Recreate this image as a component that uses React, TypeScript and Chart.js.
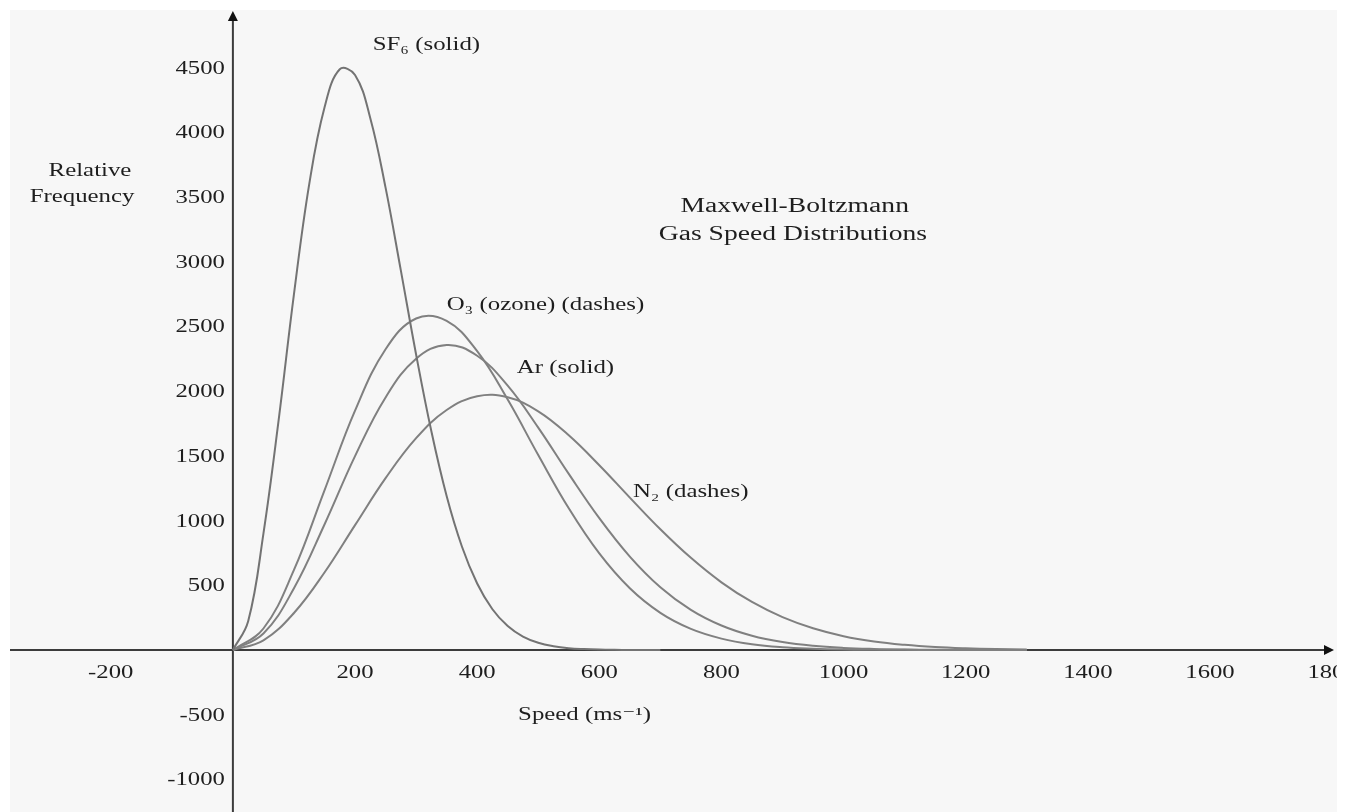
import React, { useEffect, useRef } from "react";
import { Chart, registerables } from "chart.js";

Chart.register(...registerables);

// Speeds (m/s) shared by O3, Ar, N2
const speeds = [0, 50, 100, 150, 200, 250, 300, 350, 400, 450, 500, 550, 600, 650, 700, 750, 800, 850, 900, 950, 1000, 1050, 1100, 1150, 1200, 1250, 1300];
const o3Values = [0, 166, 619, 1234, 1850, 2324, 2562, 2544, 2309, 1935, 1507, 1095, 746, 477, 287, 163, 88, 44, 21, 10, 4, 2, 1, 0, 0, 0, 0];
const arValues = [0, 127, 477, 970, 1498, 1952, 2251, 2357, 2274, 2043, 1719, 1361, 1019, 722, 485, 310, 189, 110, 61, 32, 16, 8, 4, 2, 1, 0, 0];
const n2Values = [0, 75, 286, 599, 965, 1328, 1637, 1855, 1961, 1953, 1844, 1659, 1428, 1178, 933, 712, 523, 371, 254, 168, 107, 66, 40, 23, 13, 7, 4];

// SF6 is sampled more finely (narrow peak)
const sf6Speeds = [0, 25, 50, 75, 100, 125, 150, 175, 200, 225, 250, 275, 300, 325, 350, 375, 400, 425, 450, 475, 500, 525, 550, 575, 600, 625, 650, 675, 700];
const sf6Values = [0, 222, 900, 1780, 2750, 3600, 4192, 4488, 4444, 4110, 3573, 2934, 2284, 1690, 1190, 800, 514, 315, 185, 104, 56, 29, 14, 7, 3, 1, 0, 0, 0];

const xTickValues = [-200, 200, 400, 600, 800, 1000, 1200, 1400, 1600, 1800];
const yTickValues = [-1000, -500, 500, 1000, 1500, 2000, 2500, 3000, 3500, 4000, 4500];

const X_MIN = -365;
const X_MAX = 1808;
const Y_MIN = -1252;
const Y_MAX = 4946;

// Annotation texts anchored in data coordinates
const annotations = [
  { text: "SF₆ (solid)", x: 229, y: 4675, align: "left", size: 18 },
  { text: "Relative", x: -234, y: 3700, align: "center", size: 18 },
  { text: "Frequency", x: -247, y: 3500, align: "center", size: 18 },
  { text: "Maxwell-Boltzmann", x: 920, y: 3423, align: "center", size: 20 },
  { text: "Gas Speed Distributions", x: 917, y: 3207, align: "center", size: 20 },
  { text: "O₃ (ozone) (dashes)", x: 350, y: 2666, align: "left", size: 18 },
  { text: "Ar (solid)", x: 465, y: 2179, align: "left", size: 18 },
  { text: "N₂ (dashes)", x: 655, y: 1221, align: "left", size: 18 },
  { text: "Speed (ms⁻¹)", x: 467, y: -502, align: "left", size: 18 },
];

const FONT = '"Liberation Serif", "DejaVu Serif", "Times New Roman", serif';
const TEXT_COLOR = "#1e1e1e";
const AXIS_COLOR = "#3c3c3c";
const LINE_COLOR = "#808080";

function stretchText(
  ctx: CanvasRenderingContext2D,
  text: string,
  x: number,
  y: number,
  align: string,
  size: number,
  sx: number
) {
  ctx.save();
  ctx.font = `${size}px ${FONT}`;
  ctx.fillStyle = TEXT_COLOR;
  ctx.textBaseline = "middle";
  ctx.textAlign = "left";
  const w = ctx.measureText(text).width * sx;
  let left = x;
  if (align === "center") left = x - w / 2;
  else if (align === "right") left = x - w;
  ctx.translate(left, y);
  ctx.scale(sx, 1);
  ctx.fillText(text, 0, 0);
  ctx.restore();
}

const decorPlugin = {
  id: "decor",
  beforeDraw(chart: any) {
    const { ctx, chartArea, width, height } = chart;
    ctx.save();
    ctx.fillStyle = "#ffffff";
    ctx.fillRect(0, 0, width, height);
    ctx.fillStyle = "#f7f7f7";
    ctx.fillRect(chartArea.left, chartArea.top, chartArea.right - chartArea.left, chartArea.bottom - chartArea.top);
    ctx.restore();
  },
  beforeDatasetsDraw(chart: any) {
    const { ctx, chartArea, scales } = chart;
    const xs = scales.x;
    const ys = scales.y;
    const x0 = xs.getPixelForValue(0);
    const y0 = ys.getPixelForValue(0);
    ctx.save();
    ctx.beginPath();
    ctx.rect(chartArea.left, chartArea.top, chartArea.right - chartArea.left, chartArea.bottom - chartArea.top);
    ctx.clip();
    ctx.strokeStyle = AXIS_COLOR;
    ctx.lineWidth = 2;
    // x axis
    const xEnd = chartArea.right - 3;
    ctx.beginPath();
    ctx.moveTo(chartArea.left, y0);
    ctx.lineTo(xEnd - 6, y0);
    ctx.stroke();
    // y axis
    const yTop = chartArea.top + 1;
    ctx.beginPath();
    ctx.moveTo(x0, chartArea.bottom);
    ctx.lineTo(x0, yTop + 6);
    ctx.stroke();
    // arrowheads
    ctx.fillStyle = "#111";
    ctx.beginPath();
    ctx.moveTo(xEnd, y0);
    ctx.lineTo(xEnd - 10, y0 - 5);
    ctx.lineTo(xEnd - 10, y0 + 5);
    ctx.closePath();
    ctx.fill();
    ctx.beginPath();
    ctx.moveTo(x0, yTop);
    ctx.lineTo(x0 - 5, yTop + 10);
    ctx.lineTo(x0 + 5, yTop + 10);
    ctx.closePath();
    ctx.fill();

    // tick labels
    xTickValues.forEach((v) => {
      stretchText(ctx, String(v), xs.getPixelForValue(v), y0 + 23, "center", 19, 1.3);
    });
    yTickValues.forEach((v) => {
      stretchText(ctx, String(v), x0 - 8, ys.getPixelForValue(v) + 1, "right", 19, 1.3);
    });
    ctx.restore();
  },
  afterDatasetsDraw(chart: any) {
    const { ctx, scales } = chart;
    annotations.forEach((a) => {
      stretchText(ctx, a.text, scales.x.getPixelForValue(a.x), scales.y.getPixelForValue(a.y), a.align, a.size, 1.38);
    });
  },
};

function toPoints(xsArr: number[], ysArr: number[]) {
  return xsArr.map((x, i) => ({ x, y: ysArr[i] }));
}

export default function App() {
  const canvasRef = useRef<HTMLCanvasElement | null>(null);

  useEffect(() => {
    document.body.style.margin = "0";
    const canvas = canvasRef.current;
    if (!canvas) return;
    const common = {
      borderColor: LINE_COLOR,
      borderWidth: 2,
      pointRadius: 0,
      fill: false,
      tension: 0.4,
    };
    const chart = new Chart(canvas, {
      type: "line",
      data: {
        datasets: [
          { label: "SF₆", data: toPoints(sf6Speeds, sf6Values), ...common, borderColor: "#737373" },
          { label: "O₃", data: toPoints(speeds, o3Values), ...common },
          { label: "Ar", data: toPoints(speeds, arValues), ...common },
          { label: "N₂", data: toPoints(speeds, n2Values), ...common },
        ],
      },
      options: {
        animation: false,
        responsive: false,
        devicePixelRatio: 1,
        layout: { padding: { left: 10, top: 10, right: 10, bottom: 0 } },
        plugins: { legend: { display: false }, tooltip: { enabled: false } },
        scales: {
          x: { type: "linear", min: X_MIN, max: X_MAX, display: false },
          y: { type: "linear", min: Y_MIN, max: Y_MAX, display: false },
        },
      },
      plugins: [decorPlugin],
    });
    return () => chart.destroy();
  }, []);

  return (
    <div style={{ width: 1347, height: 812, position: "relative" }}>
      <canvas ref={canvasRef} width={1347} height={812} style={{ display: "block" }} />
    </div>
  );
}
